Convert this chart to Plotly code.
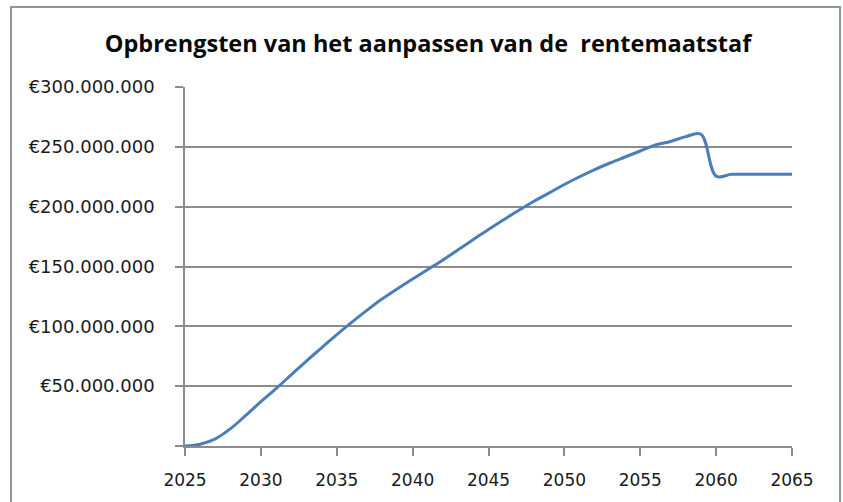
import plotly.graph_objects as go

# ---- data ----
years = list(range(2025, 2066))
opbrengst_mln = [
    0, 1.5, 6, 14.5, 25.5, 37, 48, 59.5, 71, 82,          # 2025-2034
    93, 103.5, 113.5, 123, 131.5, 139.5, 147.5, 155.5, 164, 172.5,  # 2035-2044
    181, 189, 197, 204.5, 211.5, 218.5, 225, 231, 236.5, 241.5,     # 2045-2054
    246.5, 251.5, 254.5, 258.5, 260.5, 225.5, 227, 227, 227, 227,  # 2055-2064
    227,                                                   # 2065
]
values = [v * 1_000_000 for v in opbrengst_mln]

y_tickvals = [0, 50_000_000, 100_000_000, 150_000_000, 200_000_000, 250_000_000, 300_000_000]
y_ticktext = ["", "€50.000.000", "€100.000.000", "€150.000.000", "€200.000.000",
              "€250.000.000", "€300.000.000"]
x_tickvals = [2025, 2030, 2035, 2040, 2045, 2050, 2055, 2060, 2065]
x_ticktext = [str(v) for v in x_tickvals]

title_text = "Opbrengsten van het aanpassen van de\u00a0 rentemaatstaf"

# ---- figure ----
fig = go.Figure()
fig.add_trace(go.Scatter(
    x=years, y=values, mode="lines",
    line=dict(color="#4A7EBB", width=3, shape="spline", smoothing=1),
    hoverinfo="x+y", showlegend=False,
))

W, H = 843, 502
L, R, T, B = 185, 51, 87, 56
pw, ph = W - L - R, H - T - B

grey = "#8C8C8C"
fig.update_layout(
    width=W, height=H,
    margin=dict(l=L, r=R, t=T, b=B, autoexpand=False),
    paper_bgcolor="white", plot_bgcolor="white",
    title=dict(text=title_text, x=428 / W, xanchor="center", y=1 - 44 / H, yanchor="middle",
               font=dict(family="'Open Sans', Lato, sans-serif", size=23.5, color="#0A0A0A",
                         weight="bold")),
    xaxis=dict(range=[2025, 2065], tickvals=x_tickvals, ticktext=x_ticktext,
               automargin=False,
               showgrid=False, zeroline=False, showline=True, linecolor=grey, linewidth=1.5,
               ticks="outside", ticklen=8, tickcolor=grey, tickwidth=1.5,
               ticklabelstandoff=10,
               tickfont=dict(family="DejaVu Sans", size=17, color="#1A1A1A")),
    yaxis=dict(range=[0, 300_000_000], tickvals=y_tickvals, ticktext=y_ticktext,
               automargin=False,
               showgrid=True, gridcolor=grey, gridwidth=1.5, zeroline=False,
               showline=True, linecolor=grey, linewidth=1.5,
               ticks="outside", ticklen=8, tickcolor=grey, tickwidth=1.5,
               ticklabelstandoff=17,
               tickfont=dict(family="DejaVu Sans", size=18, color="#1A1A1A")),
    shapes=[dict(type="rect", xref="paper", yref="paper",
                 x0=(11 - L) / pw, x1=(840 - L) / pw,
                 y0=-(B + 20) / ph, y1=(H - B - 7) / ph,
                 line=dict(color="#8A9A9A", width=2), fillcolor="rgba(0,0,0,0)",
                 layer="below")],
)

fig.write_html("out.html",
               config={"displayModeBar": False},
               post_script="document.body.style.margin='0';document.body.style.overflow='hidden';")
